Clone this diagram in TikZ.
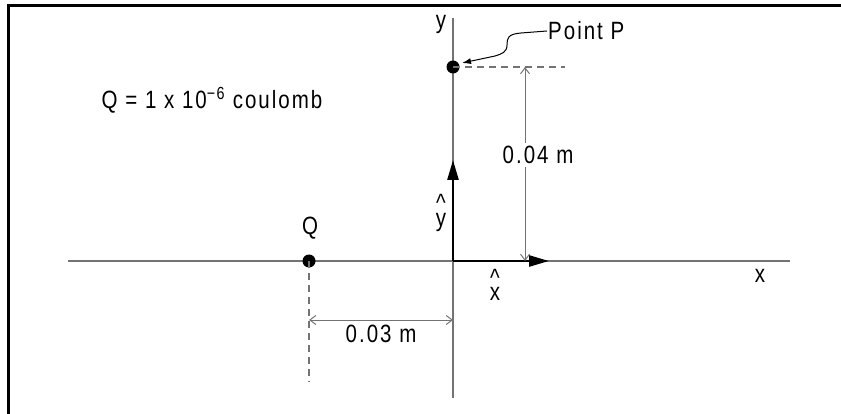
\documentclass[tikz,border=0pt]{standalone}
\usepackage{fontspec}
\setmainfont[FakeStretch=0.82,LetterSpace=8]{Liberation Sans}
\usetikzlibrary{arrows.meta}
\begin{document}
\begin{tikzpicture}[x=1pt,y=-1pt,
  axis/.style={draw=black!55,line width=1.6pt},
  dimline/.style={draw=black!55,line width=1pt,{Straight Barb[length=6pt,width=9pt]}-{Straight Barb[length=6pt,width=9pt]}},
  dashline/.style={draw=black!55,line width=1.2pt,dash pattern=on 7pt off 5pt},
  vec/.style={draw=black,line width=2.6pt,-{Triangle[length=20pt,width=11pt]}},
  dot/.style={circle,fill=black,inner sep=0pt,minimum size=13pt},
  lbl/.style={font=\fontsize{25}{29}\selectfont,inner sep=1pt},
  hatlbl/.style={font=\fontsize{25}{12}\selectfont,inner sep=0pt,align=center},
  frame/.style={draw=black,line width=3pt}]
\useasboundingbox (0,0) rectangle (841,414);
% frame (top and left only visible)
\coordinate (f1) at (8,414);
\coordinate (f2) at (8,6);
\coordinate (f3) at (841,6);
\draw[frame] (f1) -- (f2) -- (f3);
% axes
\coordinate (xa0) at (68,261);
\coordinate (xa1) at (790,261);
\coordinate (ya0) at (453,18);
\coordinate (ya1) at (453,398);
\coordinate (O) at (453,261);
\draw[axis] (xa0) -- (xa1);
\draw[axis] (ya0) -- (ya1);
\node[lbl] (xl) at (760,276) {x};
\node[lbl] (yl) at (441,24) {y};
% unit vectors
\coordinate (xe) at (549,261);
\coordinate (ye) at (453,160);
\draw[vec] (O) -- (xe);
\draw[vec] (O) -- (ye);
\node[hatlbl] (xhat) at (495,285) {\^{}\\x};
\node[hatlbl] (yhat) at (441,213) {\^{}\\y};
% point P
\node[dot] (P) at (453,67) {};
\coordinate (Pd) at (565,67);
\draw[dashline] (P.center) -- (Pd);
\node[lbl,anchor=west] (PP) at (547,31) {Point P};
\draw[line width=1pt,-{Latex[length=9pt,width=6pt]}] (PP.west) -- (521,33) .. controls (508,34) and (507,38) .. (507,45)
  .. controls (507,52) and (502,54) .. (495,56) -- (462,63);
% vertical dimension
\coordinate (d1) at (525,67);
\coordinate (d2) at (525,261);
\draw[dimline] (d1) -- (d2);
\node[lbl,fill=white,inner sep=3pt] (d04) at (538,155) {0.04 m};
% Q
\node[dot] (Q) at (309,261) {};
\node[lbl] (Ql) at (310,228) {Q};
\coordinate (Qd) at (309,382);
\draw[dashline] (Q.center) -- (Qd);
\coordinate (h1) at (309,320);
\coordinate (h2) at (453,320);
\draw[dimline] (h1) -- (h2);
\node[lbl] (d03) at (381,334) {0.03 m};
% charge text
\node[lbl] (qt) at (212,100) {Q = 1 x 10\textsuperscript{−6} coulomb};
\end{tikzpicture}
\end{document}
